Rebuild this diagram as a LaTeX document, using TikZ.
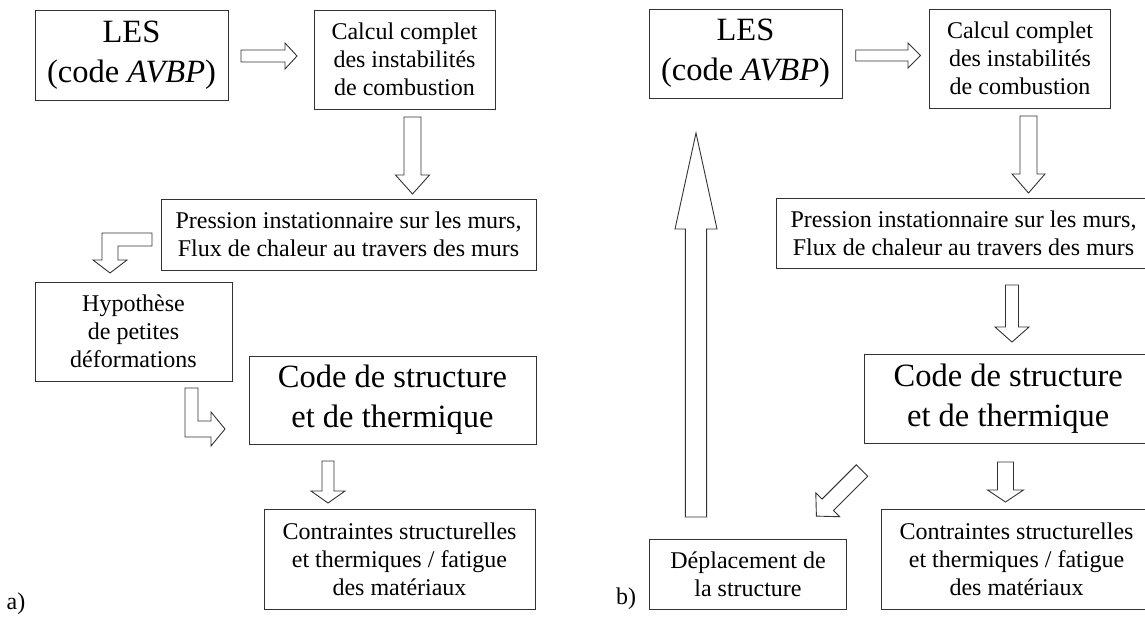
\documentclass[tikz,border=0pt]{standalone}
\usepackage{fontspec}
\setmainfont{Liberation Serif}
\tikzset{
  boxnode/.style={draw=black!80, line width=0.9pt, inner sep=0pt, align=center, text=black},
  smalltxt/.style={font=\fontsize{24}{28}\selectfont},
  bigtxt/.style={font=\fontsize{32.5}{40}\selectfont},
  blockarrow/.style={draw=black!80, line width=0.9pt, fill=white, line join=miter},
}
% vertical block arrow: cx, ystart, yhead, halfshaft, halfhead, ytip
\newcommand{\myVArrow}[6]{\draw[blockarrow] ({#1-#4},#2) -- ({#1+#4},#2) -- ({#1+#4},#3) -- ({#1+#5},#3) -- (#1,#6) -- ({#1-#5},#3) -- ({#1-#4},#3) -- cycle;}
% horizontal block arrow: cy, xstart, xhead, halfshaft, halfhead, xtip
\newcommand{\myHArrow}[6]{\draw[blockarrow] (#2,{#1-#4}) -- (#2,{#1+#4}) -- (#3,{#1+#4}) -- (#3,{#1+#5}) -- (#6,#1) -- (#3,{#1-#5}) -- (#3,{#1-#4}) -- cycle;}
\begin{document}
\begin{tikzpicture}[x=1pt,y=-1pt]
\useasboundingbox (0,0) rectangle (1145,616);
\clip (0,0) rectangle (1145,616);

% ---------------- panel a ----------------
\node[boxnode,bigtxt,minimum width=193pt,minimum height=90pt] (aLES) at (131.5,55) {LES\\(code \textit{AVBP})};
\node[boxnode,smalltxt,minimum width=181pt,minimum height=99pt] (aCal) at (404.5,59.5) {Calcul complet\\des instabilités\\de combustion};
\node[boxnode,smalltxt,minimum width=375pt,minimum height=71pt] (aPre) at (348.5,234.5) {Pression instationnaire sur les murs,\\Flux de chaleur au travers des murs};
\node[boxnode,smalltxt,minimum width=197pt,minimum height=99pt] (aHyp) at (133.5,331.5) {Hypothèse\\de petites\\déformations};
\node[boxnode,bigtxt,minimum width=287pt,minimum height=88pt] (aCode) at (392.5,400) {Code de structure\\et de thermique};
\node[boxnode,smalltxt,minimum width=271pt,minimum height=100pt] (aCon) at (399.5,559) {Contraintes structurelles\\et thermiques / fatigue\\des matériaux};
\node[smalltxt] (alab) at (16,604) {a)};

\myHArrow{56}{241}{285}{6}{13}{297}
\myVArrow{412.5}{117}{175}{8.5}{17}{194}
\draw[blockarrow] (152,233) -- (102,233) -- (102,260) -- (93,260) -- (110,273) -- (127,260) -- (118,260) -- (118,246) -- (152,246) -- cycle;
\draw[blockarrow] (185,388) -- (198,388) -- (198,421) -- (211,421) -- (211,412) -- (225,429) -- (211,446) -- (211,437) -- (185,437) -- cycle;
\myVArrow{328}{461}{491}{6}{17}{503}

% ---------------- panel b ----------------
\node[boxnode,bigtxt,minimum width=193pt,minimum height=89pt] (bLES) at (745.5,53.5) {LES\\(code \textit{AVBP})};
\node[boxnode,smalltxt,minimum width=181pt,minimum height=99pt] (bCal) at (1020,58.5) {Calcul complet\\des instabilités\\de combustion};
\node[boxnode,smalltxt,minimum width=375pt,minimum height=70pt] (bPre) at (963.5,233) {Pression instationnaire sur les murs,\\Flux de chaleur au travers des murs};
\node[boxnode,bigtxt,minimum width=287pt,minimum height=89pt] (bCode) at (1008.2,398.5) {Code de structure\\et de thermique};
\node[boxnode,smalltxt,minimum width=271pt,minimum height=100pt] (bCon) at (1016.5,559) {Contraintes structurelles\\et thermiques / fatigue\\des matériaux};
\node[boxnode,smalltxt,minimum width=197pt,minimum height=70pt] (bDep) at (748,574) {Déplacement de\\la structure};
\node[smalltxt] (blab) at (626,599) {b)};

\myHArrow{55.5}{855.7}{908}{5.5}{12.5}{920.5}
\myVArrow{1028.5}{116}{174}{8.5}{16.5}{193}
\myVArrow{1012}{285}{327}{6.5}{17}{342}
\myVArrow{1005.5}{462}{490}{8}{18}{502}
\myVArrow{696}{517}{229}{10.6}{21}{133}
\draw[blockarrow] (856.3,464.8) -- (822.0,499.1) -- (815.8,492.9) -- (816.4,516.1) -- (839.6,516.7) -- (833.4,510.5) -- (867.7,476.2) -- cycle;
\end{tikzpicture}
\end{document}
